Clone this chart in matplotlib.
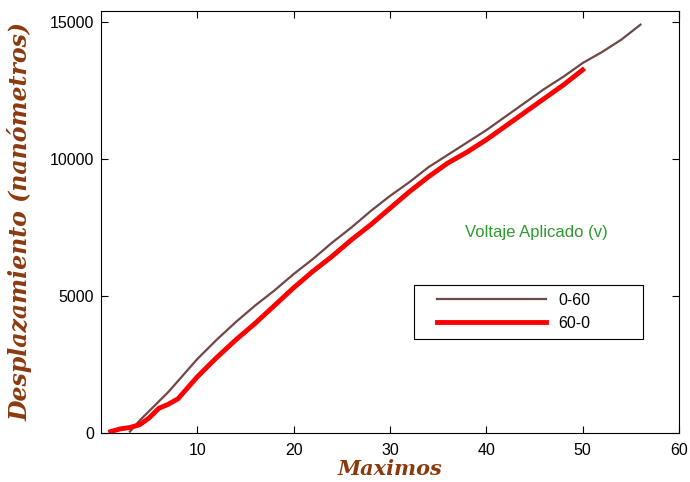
import matplotlib.pyplot as plt
from matplotlib.lines import Line2D
from matplotlib.legend_handler import HandlerLine2D

# datos
x_subida = [3, 4, 5, 6, 7, 8, 10, 12, 14, 16, 18, 20, 22, 24, 26, 28, 30,
            32, 34, 36, 38, 40, 42, 44, 46, 48, 50, 52, 54, 56]
y_subida = [50, 450, 800, 1150, 1500, 1900, 2700, 3400, 4050, 4650, 5200,
            5800, 6350, 6950, 7500, 8100, 8650, 9150, 9700, 10150, 10600,
            11050, 11550, 12050, 12550, 13000, 13500, 13900, 14350, 14900]

x_bajada = [1, 2, 3, 4, 5, 6, 7, 8, 10, 12, 14, 16, 18, 20, 22, 24, 26, 28,
            30, 32, 34, 36, 38, 40, 42, 44, 46, 48, 50]
y_bajada = [50, 150, 200, 300, 550, 900, 1050, 1250, 2050, 2750, 3400, 4000,
            4650, 5300, 5900, 6450, 7050, 7600, 8200, 8800, 9350, 9850,
            10250, 10700, 11200, 11700, 12200, 12700, 13250]

etiquetas = ["0-60", "60-0"]

fig = plt.figure(figsize=(6.9, 4.82), dpi=100)
ax = fig.add_axes([0.1464, 0.1017, 0.8376, 0.8755])

ax.plot(x_subida, y_subida, color="#6F4747", lw=1.6, label=etiquetas[0])
ax.plot(x_bajada, y_bajada, color="#FF0000", lw=3.5, label=etiquetas[1])

ax.set_xlim(0, 60)
ax.set_ylim(0, 15400)
ax.set_xticks([10, 20, 30, 40, 50, 60])
ax.set_yticks([0, 5000, 10000, 15000])
ax.tick_params(direction="in", top=True, right=True, length=5,
               labelsize=11.5, pad=5)
ax.tick_params(axis="x", pad=7)
for lab in ax.get_xticklabels() + ax.get_yticklabels():
    lab.set_fontfamily("Liberation Sans")

color_titulo = "#8B3A0E"
ax.set_xlabel("Maximos", fontsize=15, fontweight="bold", style="italic",
              family="DejaVu Serif", color=color_titulo, labelpad=1)
ax.set_ylabel("Desplazamiento (nanómetros)", fontsize=17, fontweight="bold",
              style="italic", family="DejaVu Serif", color=color_titulo,
              labelpad=12)

ax.text(0.754, 0.476, "Voltaje Aplicado (v)", transform=ax.transAxes,
        ha="center", va="center", color="#2E9A2E", fontsize=12,
        family="Liberation Sans")

leg = ax.legend(loc="lower left", bbox_to_anchor=(0.541, 0.223, 0.397, 0.13),
                mode="expand", handlelength=7.8, fancybox=False,
                edgecolor="black", framealpha=1, borderaxespad=0,
                prop={"family": "Liberation Sans", "size": 11.5},
                handletextpad=0.75, labelspacing=0.5, borderpad=0.5,
                handler_map={Line2D: HandlerLine2D(xpad=0.95)})
leg.get_frame().set_linewidth(0.8)

fig.savefig("out.png", dpi=100)
